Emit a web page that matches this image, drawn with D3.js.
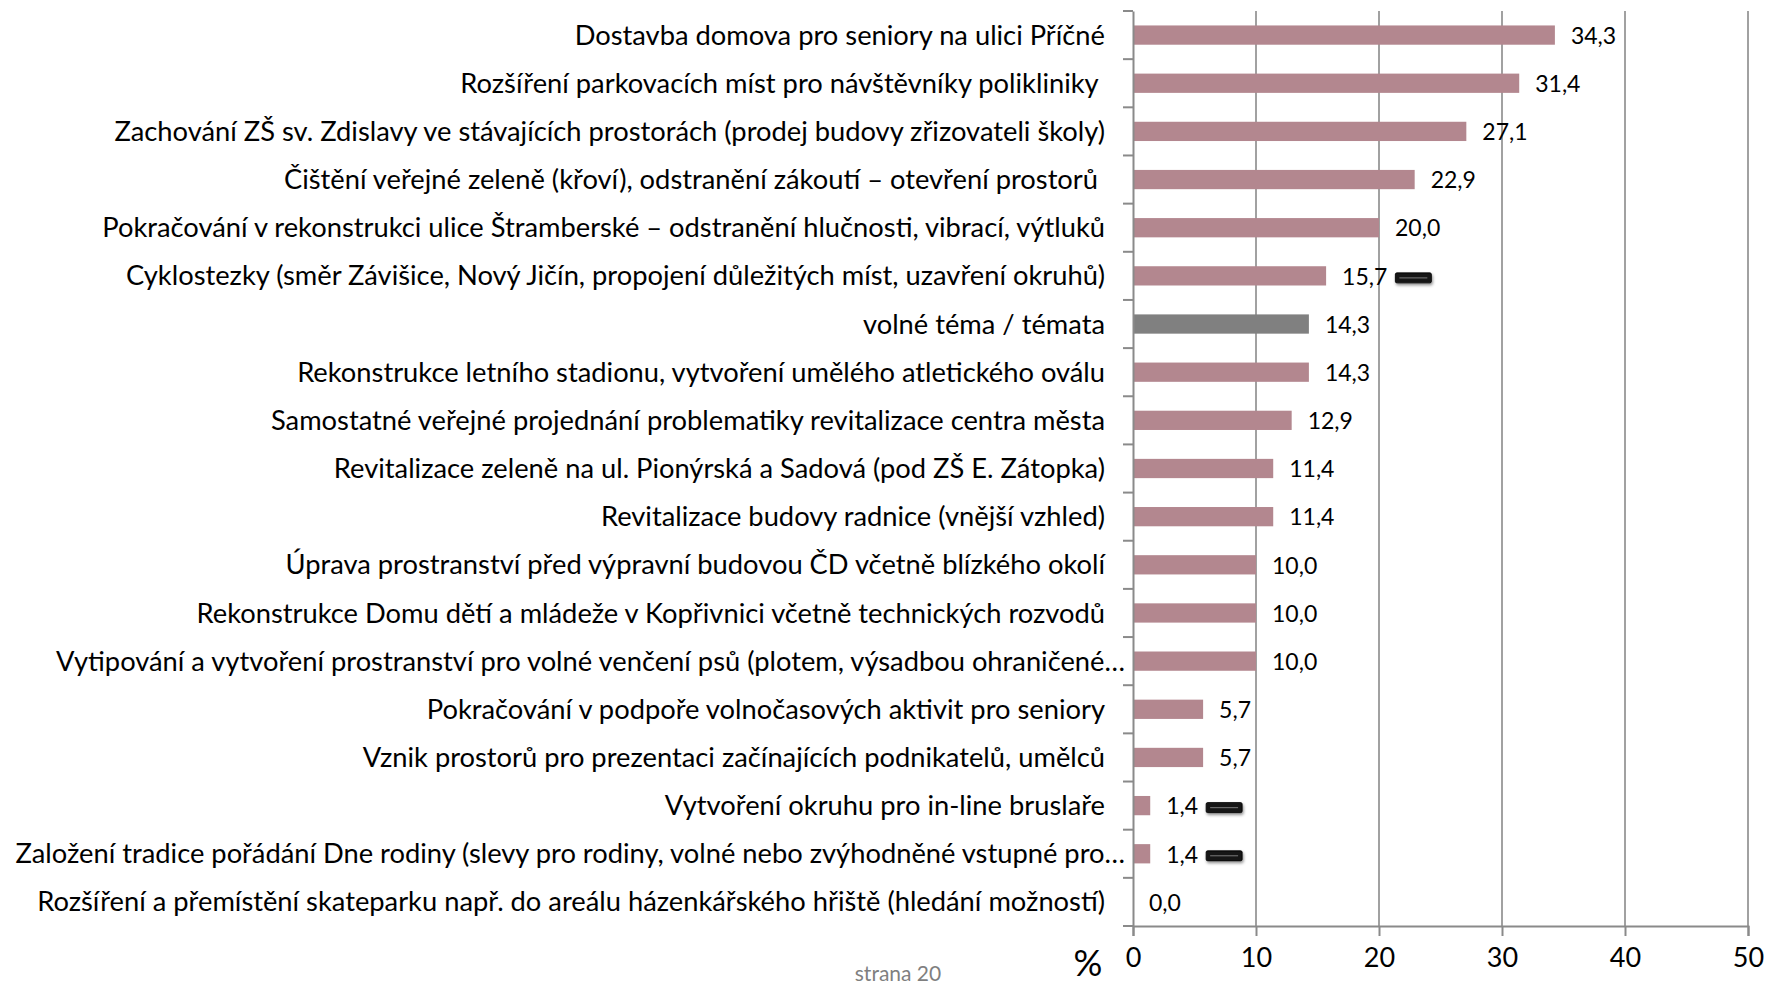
<!DOCTYPE html>
<html>
<head>
<meta charset="utf-8">
<script src="https://cdn.jsdelivr.net/npm/d3@7"></script>
<style>
  body { margin: 0; background: #fff; }
  svg { display: block; font-family: Lato, "Open Sans", sans-serif; }
</style>
</head>
<body>
<svg id="chart" width="1766" height="988"></svg>
<script>
// categories, top to bottom (trailing spaces are in the source labels)
const categories = [
  'Dostavba domova pro seniory na ulici Příčné',
  'Rozšíření parkovacích míst pro návštěvníky polikliniky ',
  'Zachování ZŠ sv. Zdislavy ve stávajících prostorách (prodej budovy zřizovateli školy)',
  'Čištění veřejné zeleně (křoví), odstranění zákoutí – otevření prostorů ',
  'Pokračování v rekonstrukci ulice Štramberské – odstranění hlučnosti, vibrací, výtluků',
  'Cyklostezky (směr Závišice, Nový Jičín, propojení důležitých míst, uzavření okruhů)',
  'volné téma / témata',
  'Rekonstrukce letního stadionu, vytvoření umělého atletického oválu',
  'Samostatné veřejné projednání problematiky revitalizace centra města',
  'Revitalizace zeleně na ul. Pionýrská a Sadová (pod ZŠ E. Zátopka)',
  'Revitalizace budovy radnice (vnější vzhled)',
  'Úprava prostranství před výpravní budovou ČD včetně blízkého okolí',
  'Rekonstrukce Domu dětí a mládeže v Kopřivnici včetně technických rozvodů',
  'Vytipování a vytvoření prostranství pro volné venčení psů (plotem, výsadbou ohraničené…',
  'Pokračování v podpoře volnočasových aktivit pro seniory',
  'Vznik prostorů pro prezentaci začínajících podnikatelů, umělců',
  'Vytvoření okruhu pro in-line bruslaře',
  'Založení tradice pořádání Dne rodiny (slevy pro rodiny, volné nebo zvýhodněné vstupné pro…',
  'Rozšíření a přemístění skateparku např. do areálu házenkářského hřiště (hledání možností)'
];
const values = [34.3, 31.4, 27.1, 22.9, 20.0, 15.7, 14.3, 14.3, 12.9, 11.4, 11.4, 10.0, 10.0, 10.0, 5.7, 5.7, 1.4, 1.4, 0.0];
const greyCategories = ['volné téma / témata'];
const flagged = [
  'Cyklostezky (směr Závišice, Nový Jičín, propojení důležitých míst, uzavření okruhů)',
  'Vytvoření okruhu pro in-line bruslaře',
  'Založení tradice pořádání Dne rodiny (slevy pro rodiny, volné nebo zvýhodněné vstupné pro…'
];
const xTicks = [0, 10, 20, 30, 40, 50];
const axisUnit = '%';
const footer = 'strana 20';

const data = categories.map((c, i) => ({ cat: c, value: values[i] }));

const svg = d3.select('#chart');
const margin = { top: 11, right: 18, bottom: 62, left: 1133 };
const width = 1766;
const height = 988;

const x = d3.scaleLinear().domain([0, 50]).range([margin.left, width - margin.right]);
const y = d3.scaleBand().domain(categories).range([margin.top, height - margin.bottom]).paddingInner(0.6).paddingOuter(0.3);
const yBand = d3.scaleBand().domain(categories).range([margin.top, height - margin.bottom]);

const axisColor = '#8a8a8a';
const fmt = (v) => v.toFixed(1).replace('.', ',');

// vertical gridlines
svg.append('g')
  .selectAll('line')
  .data(xTicks.slice(1))
  .enter()
  .append('line')
  .attr('x1', (d) => x(d))
  .attr('x2', (d) => x(d))
  .attr('y1', margin.top)
  .attr('y2', height - margin.bottom)
  .attr('stroke', axisColor)
  .attr('stroke-width', 1.6);

// bars
svg.append('g')
  .selectAll('rect')
  .data(data)
  .enter()
  .append('rect')
  .attr('x', x(0))
  .attr('y', (d) => y(d.cat))
  .attr('width', (d) => x(d.value) - x(0))
  .attr('height', y.bandwidth())
  .attr('fill', (d) => (greyCategories.includes(d.cat) ? '#808080' : '#B3878F'));

// x axis
const xAxis = svg.append('g')
  .attr('transform', `translate(0,${height - margin.bottom})`)
  .call(d3.axisBottom(x).tickValues(xTicks).tickSize(10).tickPadding(12));
xAxis.select('.domain').attr('stroke', axisColor).attr('stroke-width', 2);
xAxis.selectAll('.tick line').attr('stroke', axisColor).attr('stroke-width', 2);
xAxis.selectAll('.tick text')
  .attr('fill', '#000')
  .attr('font-size', 27)
  .attr('font-family', 'Lato, sans-serif');

svg.append('text')
  .attr('x', x(0) - 45)
  .attr('y', height - margin.bottom + 50)
  .attr('text-anchor', 'middle')
  .attr('font-size', 36)
  .attr('fill', '#000')
  .text(axisUnit);

// y axis
const yAxis = svg.append('g')
  .attr('transform', `translate(${margin.left},0)`)
  .call(d3.axisLeft(yBand).tickValues([]).tickSizeOuter(0));
yAxis.select('.domain').attr('stroke', axisColor).attr('stroke-width', 2);
svg.append('g')
  .selectAll('line')
  .data(categories)
  .enter()
  .append('line')
  .attr('x1', margin.left - 10)
  .attr('x2', margin.left)
  .attr('y1', (d) => yBand(d))
  .attr('y2', (d) => yBand(d))
  .attr('stroke', axisColor)
  .attr('stroke-width', 2);
svg.append('line')
  .attr('x1', margin.left - 10)
  .attr('x2', margin.left)
  .attr('y1', height - margin.bottom)
  .attr('y2', height - margin.bottom)
  .attr('stroke', axisColor)
  .attr('stroke-width', 2);

// category labels
svg.append('g')
  .selectAll('text')
  .data(categories)
  .enter()
  .append('text')
  .attr('x', (d) => (d.endsWith('…') ? margin.left - 8 : margin.left - 28))
  .attr('y', (d) => yBand(d) + yBand.bandwidth() / 2)
  .attr('dy', '0.35em')
  .attr('text-anchor', 'end')
  .attr('font-size', 27.3)
  .attr('fill', '#000')
  .style('white-space', 'pre')
  .text((d) => d);

// value labels
const valueLabels = svg.append('g')
  .selectAll('text')
  .data(data)
  .enter()
  .append('text')
  .attr('x', (d) => x(d.value) + 16)
  .attr('y', (d) => yBand(d.cat) + yBand.bandwidth() / 2)
  .attr('dy', '0.38em')
  .attr('font-size', 23)
  .attr('fill', '#000')
  .text((d) => fmt(d.value));

// small dark flags next to some labels
const defs = svg.append('defs');
const shadow = defs.append('filter').attr('id', 'shadow').attr('x', '-30%').attr('y', '-60%').attr('width', '160%').attr('height', '260%');
shadow.append('feDropShadow').attr('dx', 1).attr('dy', 2).attr('stdDeviation', 1.5).attr('flood-color', '#000').attr('flood-opacity', 0.45);

valueLabels.each(function (d) {
  if (!flagged.includes(d.cat)) return;
  const box = this.getBBox();
  const fx = box.x + box.width + 8;
  const fy = yBand(d.cat) + yBand.bandwidth() / 2 - 3;
  const g = svg.append('g').attr('filter', 'url(#shadow)');
  g.append('rect')
    .attr('x', fx).attr('y', fy)
    .attr('width', 36).attr('height', 10)
    .attr('rx', 1.5)
    .attr('fill', '#151515')
    .attr('stroke', '#000').attr('stroke-width', 0.8);
  g.append('line')
    .attr('x1', fx + 4).attr('x2', fx + 32)
    .attr('y1', fy + 5).attr('y2', fy + 5)
    .attr('stroke', '#6a6a6a').attr('stroke-width', 1.2);
});

// page footer
svg.append('text')
  .attr('x', 898)
  .attr('y', 981)
  .attr('text-anchor', 'middle')
  .attr('font-size', 21)
  .attr('fill', '#7f7f7f')
  .text(footer);
</script>
</body>
</html>
